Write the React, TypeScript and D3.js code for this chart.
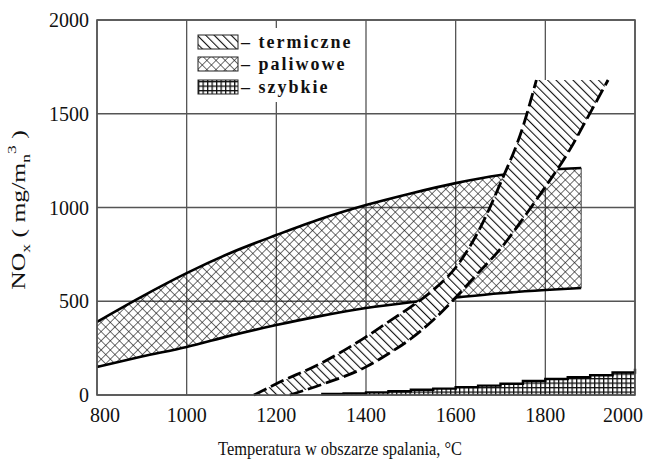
import * as d3 from "d3";

const W = 646;
const H = 459;
const PLOT = { left: 97, right: 635, top: 20, bottom: 395 };

const X_TICKS = [800, 1000, 1200, 1400, 1600, 1800, 2000];
const Y_TICKS = [0, 500, 1000, 1500, 2000];

// paliwowe (fuel NOx) band
const FUEL_T = [800, 900, 1000, 1100, 1200, 1300, 1400, 1500, 1600, 1700, 1800, 1880];
const FUEL_HI = [390, 525, 650, 760, 853, 940, 1013, 1075, 1130, 1173, 1200, 1211];
const FUEL_LO = [150, 205, 256, 318, 373, 422, 464, 495, 520, 543, 560, 571];

// termiczne (thermal NOx) band edges
const THERM_LEFT_T = [1150, 1200, 1300, 1400, 1450, 1500, 1550, 1600, 1650, 1700, 1750, 1780];
const THERM_LEFT_V = [0, 60, 170, 310, 390, 470, 560, 680, 870, 1130, 1430, 1680];
const THERM_RIGHT_T = [1230, 1300, 1400, 1450, 1500, 1550, 1600, 1650, 1700, 1750, 1800, 1850, 1900, 1940];
const THERM_RIGHT_V = [0, 55, 150, 220, 300, 400, 520, 650, 780, 940, 1110, 1290, 1505, 1680];

// szybkie (prompt NOx)
const PROMPT_T = [1300, 1350, 1400, 1450, 1500, 1550, 1600, 1650, 1700, 1750, 1800, 1850, 1900, 1950, 2000];
const PROMPT_V = [5, 8, 14, 20, 28, 34, 42, 50, 60, 75, 85, 95, 105, 120, 140];

const LEGEND = [
  { id: "hatch", label: "– termiczne" },
  { id: "cross", label: "– paliwowe" },
  { id: "grid", label: "– szybkie" },
];

const FONT = "'Liberation Serif', 'DejaVu Serif', serif";

export default function App() {
  const x = d3.scaleLinear().domain([800, 2000]).range([PLOT.left, PLOT.right]);
  const y = d3.scaleLinear().domain([0, 2000]).range([PLOT.bottom, PLOT.top]);

  const fuelArea = d3
    .area<number>()
    .x((_, i) => x(FUEL_T[i]))
    .y0((_, i) => y(FUEL_LO[i]))
    .y1((_, i) => y(FUEL_HI[i]))
    .curve(d3.curveMonotoneX)(FUEL_T);

  const lineHi = d3
    .line<number>()
    .x((_, i) => x(FUEL_T[i]))
    .y((_, i) => y(FUEL_HI[i]))
    .curve(d3.curveMonotoneX)(FUEL_T);
  const lineLo = d3
    .line<number>()
    .x((_, i) => x(FUEL_T[i]))
    .y((_, i) => y(FUEL_LO[i]))
    .curve(d3.curveMonotoneX)(FUEL_T);

  const leftPts: [number, number][] = THERM_LEFT_T.map((t, i) => [x(t), y(THERM_LEFT_V[i])]);
  const rightPts: [number, number][] = THERM_RIGHT_T.map((t, i) => [x(t), y(THERM_RIGHT_V[i])]);
  const edge = d3.line().curve(d3.curveMonotoneX);
  const leftEdge = edge(leftPts) || "";
  const rightEdge = edge(rightPts) || "";
  const rightRev = d3.line().curve(d3.curveMonotoneX)(rightPts.slice().reverse()) || "";
  const thermPath = leftEdge + "L" + rightRev.slice(1) + "Z";

  const promptArea = d3
    .area<number>()
    .x((_, i) => x(PROMPT_T[i]))
    .y0(y(0))
    .y1((_, i) => y(PROMPT_V[i]))
    .curve(d3.curveStepAfter)(PROMPT_T);
  const promptTop = d3
    .line<number>()
    .x((_, i) => x(PROMPT_T[i]))
    .y((_, i) => y(PROMPT_V[i]))
    .curve(d3.curveStepAfter)(PROMPT_T);

  const lx = 198;
  const ly = [35, 57, 80];

  return (
    <svg
      width={W}
      height={H}
      style={{ position: "absolute", left: 0, top: 0, background: "#fff" }}
      fontFamily={FONT}
    >
      <defs>
        <pattern id="hatch" width={6} height={6} patternUnits="userSpaceOnUse" patternTransform="rotate(-45)">
          <line x1={0} y1={0} x2={0} y2={6} stroke="#111" strokeWidth={2.2} />
        </pattern>
        <pattern id="cross" width={6.5} height={6.5} patternUnits="userSpaceOnUse" patternTransform="rotate(45)">
          <line x1={0} y1={0} x2={0} y2={6.5} stroke="#111" strokeWidth={1.2} />
          <line x1={0} y1={0} x2={6.5} y2={0} stroke="#111" strokeWidth={1.2} />
        </pattern>
        <pattern id="grid" width={4.5} height={4.5} patternUnits="userSpaceOnUse">
          <line x1={0.6} y1={0} x2={0.6} y2={4.5} stroke="#111" strokeWidth={1.4} />
          <line x1={0} y1={0.6} x2={4.5} y2={0.6} stroke="#111" strokeWidth={1.4} />
        </pattern>
      </defs>

      {/* grid */}
      {X_TICKS.map((t) => (
        <line key={"gx" + t} x1={x(t)} x2={x(t)} y1={PLOT.top} y2={PLOT.bottom} stroke="#555" strokeWidth={1.3} />
      ))}
      {Y_TICKS.map((t) => (
        <line key={"gy" + t} x1={PLOT.left} x2={PLOT.right} y1={y(t)} y2={y(t)} stroke="#555" strokeWidth={1.3} />
      ))}

      {/* paliwowe */}
      <path d={fuelArea || ""} fill="url(#cross)" />
      <path d={lineHi || ""} fill="none" stroke="#000" strokeWidth={2.6} />
      <path d={lineLo || ""} fill="none" stroke="#000" strokeWidth={2.6} />
      <line
        x1={x(FUEL_T[FUEL_T.length - 1])}
        x2={x(FUEL_T[FUEL_T.length - 1])}
        y1={y(FUEL_HI[FUEL_HI.length - 1])}
        y2={y(FUEL_LO[FUEL_LO.length - 1])}
        stroke="#444"
        strokeWidth={1}
      />

      {/* termiczne */}
      <path d={thermPath} fill="#fff" />
      <path d={thermPath} fill="url(#hatch)" />
      <path d={leftEdge} fill="none" stroke="#000" strokeWidth={2.8} strokeDasharray="14 5" />
      <path d={rightEdge} fill="none" stroke="#000" strokeWidth={2.8} strokeDasharray="14 5" />

      {/* szybkie */}
      <path d={promptArea || ""} fill="url(#grid)" />
      <path d={promptTop || ""} fill="none" stroke="#000" strokeWidth={2.4} />

      {/* frame */}
      <rect
        x={PLOT.left}
        y={PLOT.top}
        width={PLOT.right - PLOT.left}
        height={PLOT.bottom - PLOT.top}
        fill="none"
        stroke="#555"
        strokeWidth={1.6}
      />

      {/* legend */}
      <rect x={190} y={28} width={170} height={74} fill="#fff" />
      {LEGEND.map((l, i) => (
        <g key={l.id}>
          <rect x={lx} y={ly[i]} width={40} height={14} fill="#fff" />
          <rect x={lx} y={ly[i]} width={40} height={14} fill={`url(#${l.id})`} stroke="#222" strokeWidth={1} />
          <text
            x={lx + 43}
            y={ly[i] + 13}
            fontSize={18}
            fontWeight="bold"
            letterSpacing={2}
            fill="#111"
          >
            {l.label}
          </text>
        </g>
      ))}

      {/* tick labels */}
      {X_TICKS.map((t) => (
        <text key={"tx" + t} x={x(t) + (t === 800 ? 8 : t === 2000 ? -12 : 0)} y={422} fontSize={20} textAnchor="middle" fill="#111">
          {t}
        </text>
      ))}
      {Y_TICKS.map((t) => (
        <text key={"ty" + t} x={89} y={y(t) + 7} fontSize={20} textAnchor="end" fill="#111">
          {t}
        </text>
      ))}

      {/* axis titles */}
      <text
        x={218}
        y={455}
        fontSize={19}
        fill="#111"
        textLength={244}
        lengthAdjust="spacingAndGlyphs"
      >
        Temperatura w obszarze spalania, °C
      </text>
      <g transform="translate(25,210) rotate(-90) scale(1.35,1)">
        <text fontSize={19} textAnchor="middle" fill="#111">
          NO
          <tspan fontSize={13} dy={5}>x</tspan>
          <tspan dy={-5}> ( mg/m</tspan>
          <tspan fontSize={13} dy={5}>n</tspan>
          <tspan fontSize={13} dy={-14}>3</tspan>
          <tspan dy={9}> )</tspan>
        </text>
      </g>
    </svg>
  );
}
